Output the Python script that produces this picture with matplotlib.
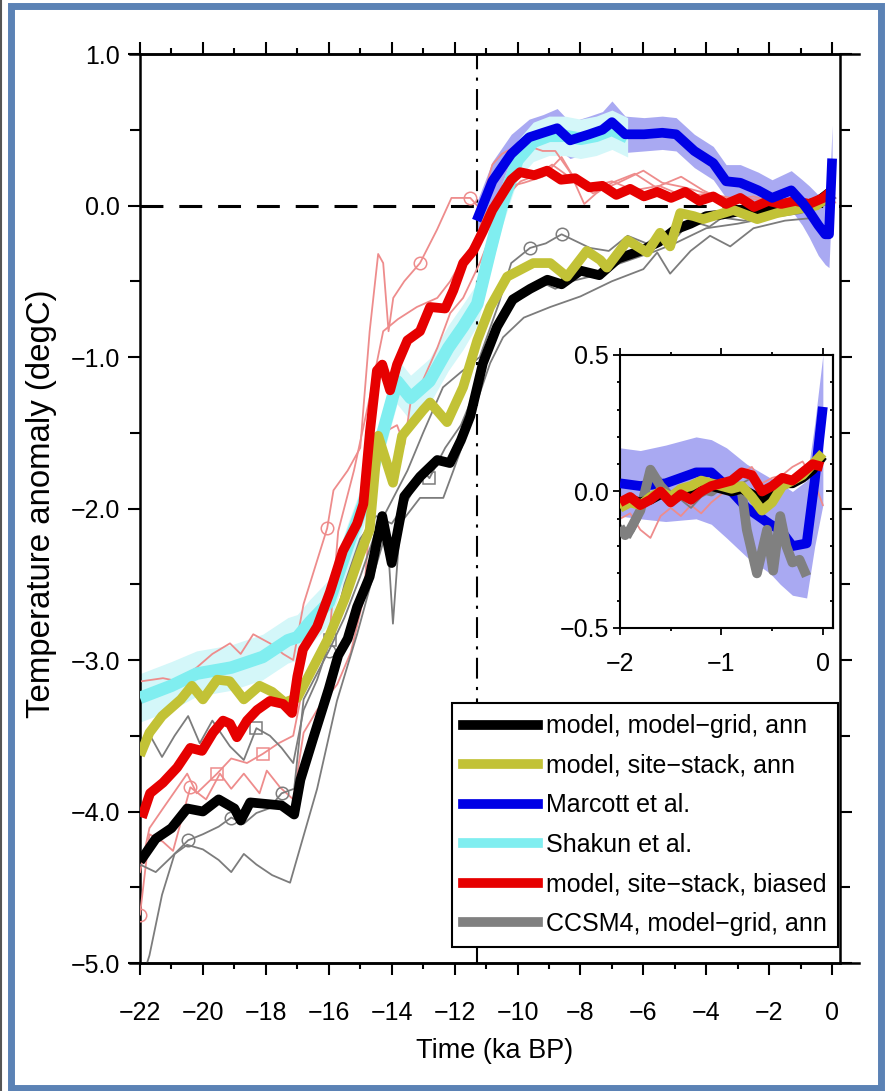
import numpy as np
import matplotlib
matplotlib.use("Agg")
import matplotlib.pyplot as plt
from matplotlib.lines import Line2D
from matplotlib.patches import Rectangle
from matplotlib.ticker import MultipleLocator, FuncFormatter

plt.rcParams['font.family'] = ['Liberation Sans', 'DejaVu Sans']

# ---- main panel data (time in ka BP, anomaly in degC) ----
t_black = [-22.0, -21.5, -21.0, -20.5, -20.0, -19.5, -19.0, -18.8, -18.5, -18.0,
           -17.5, -17.1, -16.9, -16.5, -16.0, -15.7, -15.4, -15.1, -14.7, -14.3,
           -14.0, -13.6, -13.1, -12.55, -12.15, -11.8, -11.5, -11.1, -10.65, -10.15,
           -9.6, -9.05, -8.6, -8.0, -7.4, -6.8, -6.1, -5.5, -5.0, -4.5,
           -4.0, -3.5, -3.0, -2.5, -2.0, -1.5, -1.0, -0.5, 0.0]
T_black = [-4.33, -4.18, -4.11, -3.98, -4.00, -3.92, -3.98, -4.06, -3.94, -3.95,
           -3.96, -4.02, -3.79, -3.52, -3.19, -2.97, -2.86, -2.65, -2.45, -2.05,
           -2.36, -1.92, -1.79, -1.68, -1.70, -1.55, -1.39, -1.04, -0.80, -0.62,
           -0.55, -0.49, -0.52, -0.43, -0.46, -0.35, -0.30, -0.24, -0.16, -0.12,
           -0.07, -0.06, -0.04, -0.04, -0.02, -0.02, 0.00, 0.02, 0.10]

t_yel = [-22.0, -21.7, -21.3, -20.7, -20.35, -20.0, -19.55, -19.15, -18.7, -18.2,
         -17.8, -17.4, -17.0, -16.5, -16.0, -15.5, -15.0, -14.7, -14.43, -13.96,
         -13.67, -13.0, -12.78, -12.24, -11.73, -11.28, -10.87, -10.33, -9.5, -8.96,
         -8.43, -7.8, -7.37, -7.16, -6.5, -5.88, -5.47, -5.15, -4.83, -4.4,
         -4.1, -3.14, -2.38, -1.75, -1.0, -0.5, 0.0]
T_yel = [-3.63, -3.48, -3.37, -3.26, -3.17, -3.26, -3.13, -3.14, -3.26, -3.17,
         -3.21, -3.28, -3.25, -3.05, -2.85, -2.60, -2.30, -2.14, -1.52, -1.83,
         -1.52, -1.35, -1.30, -1.43, -1.20, -0.89, -0.67, -0.47, -0.38, -0.38,
         -0.47, -0.30, -0.36, -0.41, -0.23, -0.31, -0.18, -0.27, -0.05, -0.07,
         -0.09, -0.03, -0.09, -0.05, -0.02, 0.00, 0.08]

t_red = [-21.94, -21.68, -21.27, -20.82, -20.4, -20.03, -19.68, -19.36, -19.14, -18.92,
         -18.6, -18.28, -17.87, -17.45, -17.17, -17.0, -16.82, -16.37, -15.96, -15.55,
         -15.1, -14.9, -14.69, -14.47, -14.3, -14.05, -13.83, -13.5, -13.1, -12.78,
         -12.3, -12.04, -11.73, -11.41, -11.1, -10.8, -10.2, -9.92, -9.47, -9.06,
         -8.62, -8.17, -7.72, -7.3, -6.86, -6.42, -5.98, -5.56, -5.12, -4.67,
         -4.22, -3.78, -3.37, -2.92, -2.48, -2.03, -1.62, -1.17, -0.73, -0.28, 0.0]
T_red = [-4.04, -3.88, -3.81, -3.71, -3.58, -3.60, -3.48, -3.40, -3.42, -3.51,
         -3.40, -3.33, -3.27, -3.29, -3.35, -3.11, -2.93, -2.78, -2.55, -2.28,
         -2.10, -1.97, -1.49, -1.09, -1.05, -1.22, -1.05, -0.89, -0.83, -0.67,
         -0.68, -0.56, -0.38, -0.30, -0.17, -0.03, 0.17, 0.22, 0.20, 0.23,
         0.17, 0.18, 0.12, 0.13, 0.07, 0.11, 0.06, 0.09, 0.05, 0.09,
         0.03, 0.06, 0.01, 0.05, -0.01, 0.03, 0.01, 0.03, 0.01, 0.05, 0.10]

t_blue = [-11.3, -10.8, -10.2, -9.63, -9.19, -8.74, -8.33, -7.72, -7.3, -7.0,
          -6.58, -5.98, -5.4, -4.96, -4.38, -3.78, -3.37, -2.92, -2.35, -1.91,
          -1.3, -0.95, -0.73, -0.44, -0.22, -0.1, 0.0]
T_blue = [-0.10, 0.16, 0.34, 0.45, 0.48, 0.51, 0.43, 0.47, 0.50, 0.55,
          0.47, 0.47, 0.48, 0.47, 0.36, 0.28, 0.16, 0.15, 0.10, 0.05,
          0.10, 0.02, -0.04, -0.13, -0.19, -0.19, 0.31]
blue_hw = [0.12, 0.13, 0.13, 0.12, 0.12, 0.13, 0.12, 0.12, 0.12, 0.14,
           0.12, 0.11, 0.11, 0.11, 0.11, 0.11, 0.11, 0.12, 0.12, 0.12,
           0.13, 0.15, 0.17, 0.20, 0.20, 0.22, 0.22]

t_cyan = [-22.0, -21.0, -20.2, -19.1, -18.1, -17.3, -17.0, -16.6, -16.0, -15.4,
          -14.9, -14.27, -13.83, -13.4, -12.8, -12.2, -11.73, -11.28, -10.87, -10.5,
          -10.0, -9.5, -9.0, -8.5, -8.0, -7.5, -7.0, -6.5]
T_cyan = [-3.25, -3.17, -3.09, -3.05, -2.98, -2.87, -2.85, -2.75, -2.62, -2.25,
          -1.97, -1.49, -1.16, -1.27, -1.16, -0.94, -0.80, -0.65, -0.30, 0.00,
          0.30, 0.42, 0.46, 0.46, 0.44, 0.46, 0.50, 0.45]
cyan_hw = [0.16, 0.16, 0.15, 0.15, 0.15, 0.15, 0.15, 0.15, 0.15, 0.15,
           0.15, 0.15, 0.15, 0.15, 0.15, 0.15, 0.15, 0.14, 0.14, 0.14,
           0.13, 0.13, 0.13, 0.13, 0.13, 0.13, 0.13, 0.13]

# thin site-stack (biased) members
t_p1 = [-21.94, -21.27, -20.8, -20.2, -19.7, -19.14, -18.8, -18.4, -17.87, -17.45,
        -17.13, -16.8, -16.05, -15.85, -15.4, -15.0, -14.7, -14.43, -14.27, -14.1,
        -13.95, -13.6, -13.1, -12.56, -12.1, -11.5, -11.2, -10.8, -10.5, -9.9,
        -9.2, -8.8, -8.33, -7.88, -7.5, -7.0, -6.27, -5.6, -4.8, -4.1,
        -3.4, -2.5, -1.5, -0.5, 0.1]
T_p1 = [-3.14, -3.12, -3.14, -3.05, -2.96, -2.89, -2.96, -2.83, -2.89, -2.96,
        -3.00, -2.63, -2.13, -1.88, -1.75, -1.60, -0.83, -0.32, -0.38, -0.83,
        -0.61, -0.50, -0.38, -0.16, 0.05, 0.05, -0.02, 0.27, 0.34, 0.41,
        0.36, 0.36, 0.22, 0.01, 0.08, 0.15, 0.21, 0.12, 0.19, 0.10,
        0.03, 0.06, 0.00, -0.02, 0.05]

t_p2 = [-22.0, -21.7, -21.27, -20.95, -20.4, -19.9, -19.46, -19.1, -18.7, -18.2,
        -17.97, -17.55, -17.13, -16.8, -16.37, -15.73, -15.3, -14.9, -14.7, -14.5,
        -14.27, -13.83, -13.6, -13.4, -13.0, -12.55, -12.14, -11.73, -11.2, -10.8,
        -10.4, -9.9, -9.4, -8.9, -8.3, -7.7, -7.0, -6.3, -5.5, -4.7,
        -3.9, -3.0, -2.0, -1.0, 0.1]
T_p2 = [-4.68, -4.15, -4.20, -4.26, -3.84, -3.92, -3.75, -3.85, -3.75, -3.88,
        -3.73, -3.84, -3.92, -3.48, -3.33, -3.16, -2.95, -2.60, -2.10, -1.70,
        -1.50, -1.45, -1.58, -1.30, -1.15, -0.94, -0.71, -0.61, -0.38, -0.17,
        0.05, 0.16, 0.20, 0.27, 0.18, 0.12, 0.16, 0.10, 0.13, 0.06,
        0.08, 0.02, 0.00, -0.03, 0.02]

t_p3 = [-22.0, -21.7, -21.27, -20.5, -20.2, -19.55, -19.1, -18.6, -18.1, -17.6,
        -17.13, -16.9, -16.5, -15.96, -15.7, -15.2, -14.7, -14.27, -13.8, -13.2,
        -12.55, -12.14, -11.73, -11.28, -11.1, -10.65, -10.37, -9.8, -9.2, -8.6,
        -8.17, -7.6, -6.8, -6.0, -5.4, -4.7, -4.0, -3.2, -2.4, -1.6, -0.8, 0.1]
T_p3 = [-4.40, -4.11, -3.98, -3.75, -3.88, -3.75, -3.65, -3.68, -3.62, -3.55,
        -3.50, -3.26, -3.00, -2.80, -2.15, -1.75, -1.27, -0.83, -0.75, -0.67,
        -0.61, -0.50, -0.35, -0.21, -0.08, 0.05, 0.12, 0.15, 0.19, 0.32,
        0.17, 0.08, 0.15, 0.23, 0.15, 0.12, 0.08, 0.05, 0.04, 0.00, 0.02, 0.05]

# thin CCSM4 members
t_ga = [-22.0, -21.7, -21.3, -20.9, -20.5, -20.0, -19.5, -19.1, -18.7, -18.3,
        -17.8, -17.23, -16.37, -15.74, -15.1, -14.6, -14.15, -13.96, -13.73, -13.1,
        -12.36, -12.04, -11.73, -11.3, -10.87, -10.46, -9.8, -8.96, -8.0, -7.0,
        -6.0, -5.56, -5.15, -4.5, -3.88, -3.24, -2.5, -1.5, -0.5]
T_ga = [-5.15, -4.95, -4.55, -4.28, -4.22, -4.25, -4.32, -4.40, -4.28, -4.35,
        -4.42, -4.47, -3.85, -3.27, -2.83, -2.45, -2.14, -2.76, -2.10, -1.93,
        -1.93, -1.75, -1.57, -1.30, -1.04, -0.87, -0.74, -0.67, -0.60, -0.50,
        -0.42, -0.31, -0.45, -0.30, -0.20, -0.27, -0.15, -0.10, -0.08]

t_gc = [-22.0, -21.5, -21.0, -20.47, -20.0, -19.5, -19.1, -18.7, -18.3, -17.9,
        -17.5, -17.1, -16.8, -16.4, -16.0, -15.5, -15.0, -14.5, -14.0, -13.5,
        -13.0, -12.37, -11.8, -11.2, -10.6, -10.2, -9.6, -9.1, -8.6, -8.1,
        -7.7, -7.1, -6.5, -5.9, -5.4, -4.9, -4.5, -3.9, -3.5, -2.8,
        -2.0, -1.2, -0.4, 0.1]
T_gc = [-4.35, -4.40, -4.30, -4.19, -4.15, -4.10, -4.04, -4.08, -4.01, -3.98,
        -3.88, -3.85, -3.26, -3.10, -2.94, -2.72, -2.45, -2.15, -1.95, -1.75,
        -1.50, -1.20, -1.10, -1.00, -0.65, -0.38, -0.28, -0.25, -0.19, -0.24,
        -0.28, -0.30, -0.20, -0.25, -0.17, -0.20, -0.10, -0.14, -0.08, -0.10,
        -0.05, -0.03, 0.00, 0.05]

t_gd = [-22.0, -21.7, -21.3, -20.9, -20.47, -20.1, -19.7, -19.14, -18.7, -18.3,
        -17.87, -17.5, -17.13, -16.8, -16.37, -15.96, -15.5, -15.0, -14.5, -14.0,
        -13.5, -13.0, -12.8, -12.3, -11.8, -11.3, -10.8, -10.3, -9.8, -9.3,
        -8.8, -8.3, -7.7, -7.0, -6.3, -5.6, -5.0, -4.0, -3.0, -2.0, -1.0, 0.0]
T_gd = [-3.60, -3.49, -3.64, -3.50, -3.37, -3.55, -3.40, -3.57, -3.66, -3.45,
        -3.50, -3.58, -3.68, -3.33, -3.13, -2.87, -2.50, -2.20, -2.05, -2.10,
        -1.95, -1.75, -1.80, -1.60, -1.45, -1.20, -0.90, -0.68, -0.60, -0.50,
        -0.55, -0.50, -0.47, -0.40, -0.35, -0.30, -0.25, -0.15, -0.12, -0.08,
        -0.05, 0.02]

# ---- inset: last 2 ka ----
ti = [-2.0, -1.9, -1.8, -1.7, -1.6, -1.5, -1.4, -1.3, -1.2, -1.1, -1.0,
      -0.9, -0.8, -0.7, -0.6, -0.5, -0.4, -0.3, -0.2, -0.1, 0.0]
red_i = [-0.04, -0.02, -0.05, -0.03, 0.00, -0.04, -0.01, -0.03, 0.00, 0.02, 0.03,
         0.04, 0.07, 0.06, 0.00, 0.02, 0.05, 0.04, 0.07, 0.10, 0.09]
yel_i = [-0.06, -0.04, -0.05, -0.02, 0.00, -0.02, 0.01, 0.02, 0.04, 0.03, 0.02,
         0.01, 0.02, -0.02, -0.07, -0.04, 0.02, 0.04, 0.06, 0.10, 0.14]
blk_i = [-0.05, -0.03, -0.04, -0.03, -0.01, -0.02, 0.00, 0.01, 0.02, 0.02, 0.01,
         0.00, 0.01, -0.01, -0.03, -0.01, 0.03, 0.03, 0.05, 0.08, 0.13]
pink_i = [-0.10, -0.08, -0.14, -0.17, -0.09, -0.06, -0.09, -0.05, -0.08, -0.04, -0.01,
          0.02, 0.07, 0.09, 0.03, 0.05, 0.06, 0.09, 0.11, 0.05, -0.05]
grayt_i = [-0.12, -0.17, -0.10, 0.06, 0.05, -0.05, -0.03, -0.06, -0.02, 0.00, 0.02,
           0.04, 0.03, 0.05, -0.02, 0.00, 0.03, 0.05, 0.08, 0.10, 0.12]

tb_i = [-2.0, -1.8, -1.55, -1.25, -1.1, -0.95, -0.75, -0.52, -0.42, -0.3, -0.16, -0.08, 0.0]
blue_i = [0.03, 0.02, 0.03, 0.07, 0.07, 0.02, -0.06, -0.12, -0.14, -0.20, -0.19, 0.04, 0.31]
blue_hi_i = [0.16, 0.15, 0.17, 0.20, 0.19, 0.16, 0.10, 0.05, 0.03, 0.00, 0.04, 0.25, 0.50]
blue_lo_i = [-0.09, -0.10, -0.11, -0.10, -0.12, -0.17, -0.24, -0.30, -0.34, -0.38, -0.39, -0.20, -0.05]

tg_i = [-2.0, -1.95, -1.9, -1.8, -1.7, -1.6, -1.5, -1.4, -1.3, -1.2, -1.1, -1.0,
        -0.9, -0.8, -0.75, -0.65, -0.55, -0.49, -0.42, -0.36, -0.3, -0.23, -0.16]
gray_i = [-0.13, -0.16, -0.14, -0.07, 0.08, 0.02, -0.02, 0.00, -0.03, 0.01, 0.00, 0.03,
          0.02, 0.00, -0.14, -0.30, -0.14, -0.29, -0.09, -0.20, -0.26, -0.25, -0.31]

labels = ["model, model\u2212grid, ann", "model, site\u2212stack, ann", "Marcott et al.",
          "Shakun et al.", "model, site\u2212stack, biased", "CCSM4, model\u2212grid, ann"]
t_ybd = -11.3   # onset of the Holocene marker

c_black = '#000000'
c_yel = '#c2c236'
c_blue = '#0000e6'
c_band = '#a9a9f2'
c_cyan = '#80eef0'
c_cband = '#d4f7f9'
c_red = '#e60000'
c_gray = '#808080'
c_pink = '#ee8c8c'
c_gthin = '#7c7c7c'


def fmt1(v, pos):
    if abs(v) < 1e-9:
        v = 0.0
    return ('%.1f' % v).replace('-', '\u2212')


def fmt0(v, pos):
    return ('%d' % round(v)).replace('-', '\u2212')


W, H = 887, 1091
fig = plt.figure(figsize=(W / 100, H / 100), dpi=100)

ax = fig.add_axes([140 / W, 1 - 963 / H, 700 / W, 909 / H])
ax.set_xlim(-22, 0.25)
ax.set_ylim(-5, 1)

# bands
ax.fill_between(t_blue, np.array(T_blue) - np.array(blue_hw), np.array(T_blue) + np.array(blue_hw),
                color=c_band, lw=0, zorder=1)
ax.fill_between(t_cyan, np.array(T_cyan) - np.array(cyan_hw), np.array(T_cyan) + np.array(cyan_hw),
                color=c_cband, lw=0, zorder=1)

ax.axhline(0, color='k', lw=2.2, dashes=(7.5, 5.2), zorder=2)
ax.axvline(t_ybd, color='k', lw=1.5, dashes=(10, 4, 1.5, 4), zorder=2)

# thin members
thin = dict(lw=1.3, mfc='none', ms=9, mew=1.1, zorder=3)
ax.plot(t_p1, T_p1, color=c_pink, marker='o', markevery=[12, 22, 25], **thin)
ax.plot(t_p2, T_p2, color=c_pink, marker='o', markevery=[0, 4], **thin)
ax.plot(t_p3, T_p3, color=c_pink, marker='s', markevery=[5, 8], **thin)
ax.plot(t_ga, T_ga, color=c_gthin, **thin)
ax.plot(t_gc, T_gc, color=c_gthin, marker='o', markevery=[3, 6, 10, 14, 26, 28], **thin)
ax.plot(t_gd, T_gd, color=c_gthin, marker='s', markevery=[9, 15, 22], **thin)

# thick curves
ax.plot(t_cyan, T_cyan, color=c_cyan, lw=9, zorder=4.5, solid_capstyle='butt')
ax.plot(t_black, T_black, color=c_black, lw=7, zorder=5, solid_capstyle='butt')
ax.plot(t_yel, T_yel, color=c_yel, lw=7, zorder=6, solid_capstyle='butt')
ax.plot(t_red, T_red, color=c_red, lw=7, zorder=7, solid_capstyle='butt')
ax.plot(t_blue, T_blue, color=c_blue, lw=7, zorder=7.5, solid_capstyle='butt')

ax.xaxis.set_major_locator(MultipleLocator(2))
ax.xaxis.set_minor_locator(MultipleLocator(1))
ax.yaxis.set_major_locator(MultipleLocator(1))
ax.yaxis.set_minor_locator(MultipleLocator(0.5))
ax.xaxis.set_major_formatter(FuncFormatter(fmt0))
ax.yaxis.set_major_formatter(FuncFormatter(fmt1))
ax.tick_params(which='both', direction='out', top=True, right=True, width=1.5, labelsize=18)
ax.tick_params(axis='x', which='major', length=8.5, pad=19)
ax.tick_params(axis='x', which='minor', length=4.5)
ax.tick_params(axis='y', which='major', length=8.5, pad=6)
ax.tick_params(axis='y', which='minor', length=7)
for s in ax.spines.values():
    s.set_linewidth(1.8)
# frame lines run past the corners
for yy in (0, 1):
    ax.plot([-0.014, 1.027], [yy, yy], transform=ax.transAxes, color='k', lw=1.8,
            clip_on=False, zorder=10)

handles = [Line2D([], [], color=c, lw=7) for c in (c_black, c_yel, c_blue, c_cyan, c_red, c_gray)]
leg = ax.legend(handles, labels, loc='lower right', bbox_to_anchor=(838 / W, 1 - 947 / H),
                bbox_transform=fig.transFigure, borderaxespad=0, fontsize=18,
                handlelength=3.0, handletextpad=0.3, labelspacing=0.62, borderpad=0.45,
                fancybox=False, framealpha=1, edgecolor='k')
leg.get_frame().set_linewidth(1.5)
leg.set_zorder(20)

fig.text(42 / W, 1 - 504 / H, "Temperature anomaly (degC)", rotation=90,
         ha='center', va='center', fontsize=23.8)
fig.text(495 / W, 1 - 1051 / H, "Time (ka BP)", ha='center', va='center', fontsize=19.5)

# ---- inset ----
axi = fig.add_axes([620 / W, 1 - 628 / H, 213 / W, 273 / H])
axi.set_xlim(-2, 0.1)
axi.set_ylim(-0.5, 0.5)
axi.fill_between(tb_i, blue_lo_i, blue_hi_i, color=c_band, lw=0, zorder=1)
axi.plot(ti, pink_i, color=c_pink, lw=1.3, zorder=2)
axi.plot(ti, grayt_i, color=c_gthin, lw=1.3, zorder=2)
axi.plot(tb_i, blue_i, color=c_blue, lw=7, zorder=3, solid_capstyle='butt')
axi.plot(tg_i, gray_i, color=c_gray, lw=7, zorder=4, solid_capstyle='butt')
axi.plot(ti, blk_i, color=c_black, lw=7, zorder=5, solid_capstyle='butt')
axi.plot(ti, yel_i, color=c_yel, lw=7, zorder=6, solid_capstyle='butt')
axi.plot(ti, red_i, color=c_red, lw=7, zorder=7, solid_capstyle='butt')

axi.xaxis.set_major_locator(MultipleLocator(1))
axi.xaxis.set_minor_locator(MultipleLocator(0.5))
axi.yaxis.set_major_locator(MultipleLocator(0.5))
axi.yaxis.set_minor_locator(MultipleLocator(0.1))
axi.xaxis.set_major_formatter(FuncFormatter(fmt0))
axi.yaxis.set_major_formatter(FuncFormatter(fmt1))
axi.tick_params(which='both', direction='out', top=True, width=1.3, labelsize=18)
axi.tick_params(which='major', length=5)
axi.tick_params(which='minor', length=2.5)
axi.tick_params(axis='x', pad=12)
axi.tick_params(axis='y', pad=3)
for s in axi.spines.values():
    s.set_linewidth(1.5)
sec = axi.secondary_yaxis('right')
sec.yaxis.set_major_locator(MultipleLocator(0.5))
sec.yaxis.set_minor_locator(MultipleLocator(0.1))
sec.tick_params(which='both', direction='in', labelright=False, width=1.3)
sec.tick_params(which='major', length=5)
sec.tick_params(which='minor', length=2.5)
sec.spines['right'].set_linewidth(1.5)

# page border
fig.patches.append(Rectangle((11 / W, 1 - 1088 / H), 870 / W, 1082 / H, transform=fig.transFigure,
                             fill=False, ec='#5b82b5', lw=5))
fig.add_artist(Line2D([1.5 / W, 1.5 / W], [0, 1], color='#555555', lw=1.5))

fig.savefig('out.png', dpi=100)
